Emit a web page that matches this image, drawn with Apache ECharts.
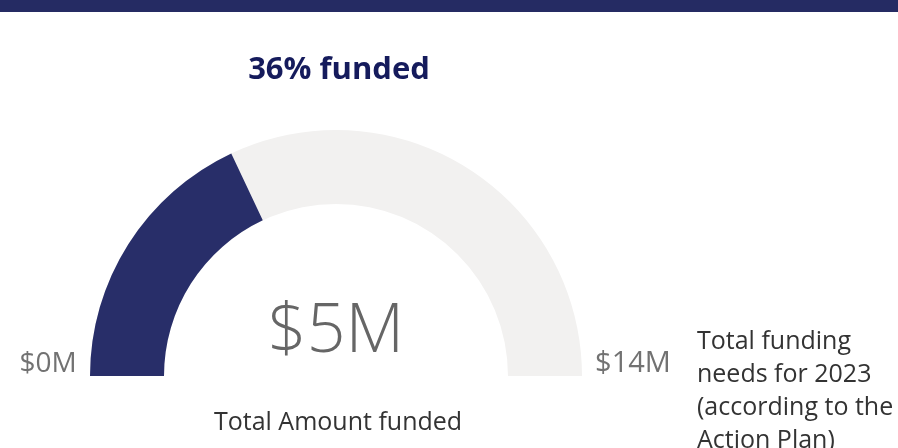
<!DOCTYPE html>
<html><head><meta charset="utf-8">
<style>html,body{margin:0;padding:0;background:#fff}#c{width:898px;height:448px}</style>
<script src="https://cdn.jsdelivr.net/npm/echarts@6/dist/echarts.min.js"></script>
</head><body><div id="c"></div>
<script>
const fundedValue = 5.04;
const minValue = 0;
const maxValue = 14;
const titleText = '36% funded';
const minLabel = '$0M';
const maxLabel = '$14M';
const valueCaption = 'Total Amount funded';
const targetCaption = ['Total funding', 'needs for 2023', '(according to the', 'Action Plan)'];

const font = '"Open Sans", "Noto Sans", sans-serif';
const chart = echarts.init(document.getElementById('c'));
chart.setOption({
  animation: false,
  graphic: [
    {type:'rect', shape:{x:0,y:0,width:898,height:12}, style:{fill:'#252B63'}},
    {type:'text', x:339, y:70, style:{text:titleText, font:'bold 31px ' + font, fill:'#151B5C', textAlign:'center', textVerticalAlign:'middle'}},
    {type:'text', x:48, y:364, style:{text:minLabel, font:'28px ' + font, fill:'#727272', textAlign:'center', textVerticalAlign:'middle'}},
    {type:'text', x:633, y:364, style:{text:maxLabel, font:'29px ' + font, fill:'#727272', textAlign:'center', textVerticalAlign:'middle'}},
    {type:'text', x:338, y:423, style:{text:valueCaption, font:'25px ' + font, fill:'#333333', textAlign:'center', textVerticalAlign:'middle'}},
    {type:'text', x:697, y:325, style:{text:targetCaption.join('\n'), font:'25px ' + font, lineHeight:33, fill:'#333333', textAlign:'left', textVerticalAlign:'top'}}
  ],
  series: [{
    type: 'gauge',
    center: [336, 376],
    radius: 246,
    startAngle: 180,
    endAngle: 0,
    min: minValue,
    max: maxValue,
    pointer: {show:false},
    progress: {show:true, width:74, roundCap:false, itemStyle:{color:'#282E69'}},
    axisLine: {lineStyle:{width:74, color:[[1,'#F2F1F0']]}},
    axisTick: {show:false},
    splitLine: {show:false},
    axisLabel: {show:false},
    title: {show:false},
    detail: {
      offsetCenter: [0, -43],
      fontSize: 68,
      fontWeight: 300,
      fontFamily: font,
      color: '#666666',
      formatter: v => '$' + Math.round(v) + 'M'
    },
    data: [{value: fundedValue}]
  }]
});
</script></body></html>
